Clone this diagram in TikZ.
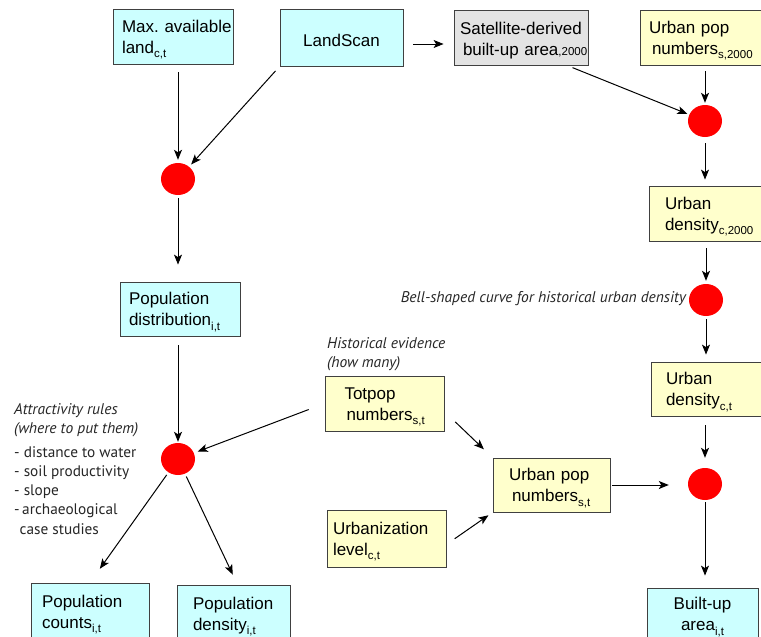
\documentclass[tikz,border=0pt]{standalone}
\usepackage{fontspec}
\setmainfont{Liberation Sans}
\newfontfamily\notefont{PT Sans}
\usetikzlibrary{arrows.meta,shapes.geometric,positioning}
\definecolor{boxcyan}{HTML}{CCFFFF}
\definecolor{boxyellow}{HTML}{FFFFCC}
\definecolor{boxgray}{HTML}{E3E3E3}
\definecolor{boxline}{HTML}{404040}
\definecolor{dotred}{HTML}{FF0000}
\newcommand{\lowidx}[1]{\raisebox{-4.5pt}{\fontsize{11.5}{11.5}\selectfont #1}}
\tikzset{
  tbox/.style={rectangle, draw=boxline, line width=0.8pt, inner xsep=0pt, inner ysep=0pt,
               minimum height=55pt, align=left, text=black,
               font=\fontsize{17}{21}\selectfont,
               execute at begin node={\rule{0pt}{18.5pt}}},
  tboxc/.style={tbox, fill=boxcyan},
  tboxy/.style={tbox, fill=boxyellow},
  tboxg/.style={tbox, fill=boxgray},
  rdot/.style={ellipse, fill=dotred, minimum width=34pt, minimum height=32pt, inner sep=0pt},
  tarr/.style={-{Stealth[length=10pt,width=8pt,inset=2.5pt]}, line width=1pt},
  tnote/.style={inner sep=0pt, align=left, text=black!85,
                font=\notefont\itshape\fontsize{15.5}{19.5}\selectfont},
  tlist/.style={inner sep=0pt, align=left, text=black!85,
                font=\notefont\fontsize{15.3}{19.3}\selectfont},
}
\begin{document}
\begin{tikzpicture}[x=1pt, y=-1pt]
  \useasboundingbox (0,0) rectangle (761,637);
  \clip (0,0) rectangle (761,637);

  \node[tboxc, minimum width=120pt, text width=102pt] (maxland) at (173,36.5) {\mbox{Max.\ available}\\land\lowidx{c,t}};
  \node[tboxc, minimum width=123pt, text width=105pt, minimum height=57pt, align=center] (landscan) at (341.5,37.5) {LandScan};
  \node[tboxg, minimum width=134pt, text width=122pt] (satbuilt) at (521,37.5) {\mbox{Satellite-derived}\\\mbox{\hspace*{3pt}built-up area{\fontsize{11.5}{11.5}\selectfont,2000}}};
  \node[tboxy, minimum width=130pt, text width=112pt] (upop2000) at (705,37.5) {\mbox{Urban pop}\\\mbox{\hspace*{3pt}numbers\lowidx{s,2000}}};

  \node[rdot] (dot1) at (178,179) {};
  \node[tboxc, minimum width=120pt, text width=102pt, minimum height=54pt] (popdist) at (180,309) {Population\\\mbox{distribution\lowidx{i,t}}};
  \node[rdot] (dot2) at (178,459) {};
  \node[tboxc, minimum width=118pt, text width=96pt, minimum height=57pt] (popcounts) at (90,611.5) {Population\\\mbox{counts\lowidx{i,t}}};
  \node[tboxc, minimum width=113pt, text width=81pt, minimum height=57pt] (popdens) at (233.5,613.5) {Population\\\mbox{density\lowidx{i,t}}};

  \node[rdot] (dotR1) at (705,121) {};
  \node[tboxy, minimum width=125pt, text width=93pt] (urbdens2000) at (711.5,213.5) {Urban\\\mbox{density\lowidx{c,2000}}};
  \node[rdot] (dotR2) at (706,300) {};
  \node[tboxy, minimum width=125pt, text width=95pt, minimum height=54pt] (urbdensct) at (713.5,389) {Urban\\\mbox{density\lowidx{c,t}}};
  \node[rdot] (dotR3) at (705,484) {};
  \node[tboxc, minimum width=111pt, text width=95pt, minimum height=52pt, align=center] (builtup) at (702.5,614) {Built-up\\\mbox{area\lowidx{i,t}}};

  \node[tboxy, minimum width=119pt, text width=80pt] (totpop) at (384.5,403.5) {Totpop\\\mbox{\hspace*{2pt}numbers\lowidx{s,t}}};
  \node[tboxy, minimum width=117pt, text width=85pt, minimum height=54pt] (urbpopst) at (551.5,485) {\mbox{Urban pop}\\\mbox{\hspace*{3pt}numbers\lowidx{s,t}}};
  \node[tboxy, minimum width=119pt, text width=107pt, minimum height=57pt] (urbaniz) at (386.5,538.5) {Urbanization\\\mbox{level\lowidx{c,t}}};

  \node[tnote, anchor=north west] (histev) at (327,337) {Historical evidence\\(how many)};
  \node[tnote, anchor=north west] (attrules) at (14,403) {Attractivity rules\\(where to put them)};
  \node[tlist, anchor=north west] (attlist) at (14,446) {- distance to water\\- soil productivity\\- slope\\-\,archaeological\\\hspace*{5.5pt}case studies};
  \node[tnote, anchor=base east] (bellnote) at (686,302) {Bell-shaped curve for historical urban density};

  \draw[tarr, shorten <=8pt, shorten >=3pt] (maxland.south -| dot1) -- (dot1);
  \draw[tarr, shorten <=6pt, shorten >=3pt] (landscan.south west) -- (dot1);
  \draw[tarr, shorten <=3pt, shorten >=17pt] (dot1) -- (popdist.north -| dot1);
  \draw[tarr, shorten <=9pt, shorten >=1pt] (popdist.south -| dot2) -- (dot2);
  \draw[tarr, shorten <=17pt, shorten >=4pt] (totpop.west) -- (dot2);
  \draw[tarr, shorten <=3pt, shorten >=17pt] (dot2) -- (popcounts.north);
  \draw[tarr, shorten <=3pt, shorten >=11pt] (dot2) -- ([xshift=4pt]popdens.north);

  \draw[tarr, shorten <=10pt, shorten >=10pt] ([yshift=-6.5pt]landscan.east) -- ([yshift=-6.5pt]satbuilt.west);
  \draw[tarr, shorten <=6pt, shorten >=2pt] ([xshift=46pt]satbuilt.south) -- (dotR1);
  \draw[tarr, shorten <=6pt, shorten >=2pt] (upop2000.south -| dotR1) -- (dotR1);
  \draw[tarr, shorten <=6pt, shorten >=6pt] (dotR1) -- (urbdens2000.north -| dotR1);
  \draw[tarr, shorten <=7pt, shorten >=3pt] (urbdens2000.south -| dotR2) -- (dotR2);
  \draw[tarr, shorten <=3pt, shorten >=7pt] (dotR2) -- (urbdensct.north -| dotR2);
  \draw[tarr, shorten <=9pt, shorten >=10pt] (urbdensct.south -| dotR3) -- (dotR3);
  \draw[tarr, shorten <=2pt, shorten >=19pt] (urbpopst.east) -- (urbpopst.east -| dotR3.west);
  \draw[tarr, shorten <=2pt, shorten >=12pt] (dotR3) -- (builtup.north -| dotR3);

  \draw[tarr, shorten <=15pt, shorten >=12pt] ([yshift=-8pt]totpop.east) -- (urbpopst.north west);
  \draw[tarr, shorten <=10pt, shorten >=5pt] ([yshift=-6pt]urbaniz.east) -- (urbpopst.south west);
\end{tikzpicture}
\end{document}
